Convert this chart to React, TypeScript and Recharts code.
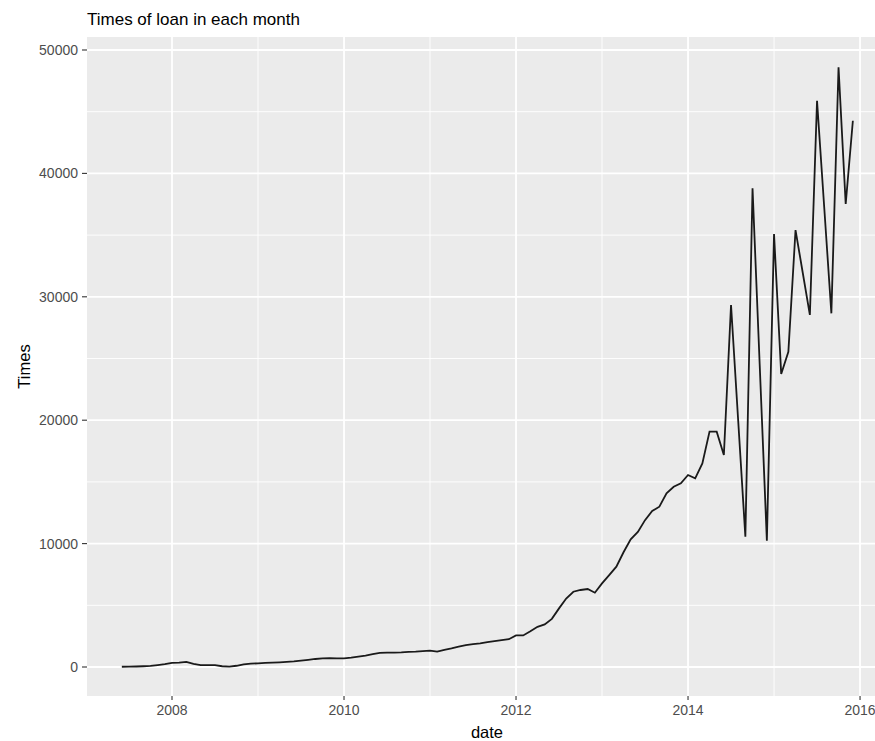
import React from 'react';
import { LineChart, Line, XAxis, YAxis, CartesianGrid } from 'recharts';

const months: string[] = [
  '2007-06','2007-07','2007-08','2007-09','2007-10','2007-11','2007-12',
  '2008-01','2008-02','2008-03','2008-04','2008-05','2008-06','2008-07','2008-08','2008-09','2008-10','2008-11','2008-12',
  '2009-01','2009-02','2009-03','2009-04','2009-05','2009-06','2009-07','2009-08','2009-09','2009-10','2009-11','2009-12',
  '2010-01','2010-02','2010-03','2010-04','2010-05','2010-06','2010-07','2010-08','2010-09','2010-10','2010-11','2010-12',
  '2011-01','2011-02','2011-03','2011-04','2011-05','2011-06','2011-07','2011-08','2011-09','2011-10','2011-11','2011-12',
  '2012-01','2012-02','2012-03','2012-04','2012-05','2012-06','2012-07','2012-08','2012-09','2012-10','2012-11','2012-12',
  '2013-01','2013-02','2013-03','2013-04','2013-05','2013-06','2013-07','2013-08','2013-09','2013-10','2013-11','2013-12',
  '2014-01','2014-02','2014-03','2014-04','2014-05','2014-06','2014-07','2014-08','2014-09','2014-10','2014-11','2014-12',
  '2015-01','2015-02','2015-03','2015-04','2015-05','2015-06','2015-07','2015-08','2015-09','2015-10','2015-11','2015-12',
];

const times: number[] = [
  20, 30, 40, 60, 90, 160, 230,
  330, 350, 420, 250, 160, 160, 150, 60, 30, 100, 220, 270,
  300, 330, 350, 380, 420, 460, 520, 580, 650, 700, 710, 700,
  705, 760, 840, 930, 1040, 1140, 1170, 1170, 1180, 1230, 1250, 1290,
  1330, 1240, 1390, 1500, 1650, 1780, 1860, 1920, 2020, 2100, 2180, 2250,
  2560, 2560, 2900, 3260, 3450, 3900, 4750, 5550, 6100, 6240, 6320, 6020,
  6780, 7450, 8130, 9300, 10350, 10950, 11900, 12640, 12990, 14080, 14610, 14890,
  15560, 15290, 16500, 19070, 19070, 17180, 29340, 19950, 10560, 38790, 24500, 10240,
  35090, 23750, 25550, 35410, 31970, 28530, 45890, 37280, 28660, 48600, 37520, 44270,
];

const xTicks: number[] = [2008, 2010, 2012, 2014, 2016];
const xMinor: number[] = [2009, 2011, 2013, 2015];
const yTicks: number[] = [0, 10000, 20000, 30000, 40000, 50000];
const yMinor: number[] = [5000, 15000, 25000, 35000, 45000];

const data = months.map((m, i) => {
  const [y, mo] = m.split('-').map(Number);
  return { t: y + (mo - 1) / 12, times: times[i] };
});

const FONT = '"Liberation Sans", Arial, sans-serif';

export default function App() {
  return (
    <div style={{ position: 'absolute', left: 0, top: 0, width: 875, height: 741, fontFamily: FONT }}>
      <div
        style={{
          position: 'absolute',
          left: 87,
          top: 10,
          fontSize: 17,
          lineHeight: '20px',
          color: '#000',
          whiteSpace: 'nowrap',
          fontFamily: FONT,
        }}
      >
        Times of loan in each month
      </div>
      <LineChart
        width={875}
        height={741}
        data={data}
        margin={{ top: 37, right: 0, bottom: 0, left: 0 }}
        style={{ fontFamily: FONT }}
      >
        <CartesianGrid
          fill="#EBEBEB"
          fillOpacity={1}
          stroke="#FFFFFF"
          strokeWidth={0.9}
          horizontalValues={yMinor}
          verticalValues={xMinor}
        />
        <CartesianGrid
          stroke="#FFFFFF"
          strokeWidth={1.8}
          horizontalValues={yTicks}
          verticalValues={xTicks}
        />
        <XAxis
          dataKey="t"
          type="number"
          domain={[2007.0116, 2016.174]}
          allowDataOverflow
          ticks={xTicks}
          tickFormatter={(v: number) => String(Math.round(v))}
          height={45}
          axisLine={false}
          tickSize={4}
          tickMargin={5}
          tickLine={{ stroke: '#333333', strokeWidth: 1.1 }}
          tick={{ fill: '#4D4D4D', fontSize: 14, fontFamily: FONT }}
          label={{
            content: (props: any) => {
              const vb = props.viewBox || {};
              return (
                <text
                  x={vb.x + vb.width / 2 + 6}
                  y={vb.y + vb.height - 3}
                  textAnchor="middle"
                  fontSize={16.5}
                  fill="#000"
                  fontFamily={FONT}
                >
                  date
                </text>
              );
            },
          }}
        />
        <YAxis
          type="number"
          domain={[-2350, 51053]}
          allowDataOverflow
          ticks={yTicks}
          width={87}
          axisLine={false}
          tickSize={5}
          tickMargin={4}
          tickLine={{ stroke: '#333333', strokeWidth: 1.1 }}
          tick={{ fill: '#4D4D4D', fontSize: 14, fontFamily: FONT }}
          label={{
            content: (props: any) => {
              const vb = props.viewBox || {};
              const cx = vb.x + 30;
              const cy = vb.y + vb.height / 2;
              return (
                <text
                  x={cx}
                  y={cy}
                  transform={`rotate(-90, ${cx}, ${cy})`}
                  textAnchor="middle"
                  fontSize={16.5}
                  fill="#000"
                  fontFamily={FONT}
                >
                  Times
                </text>
              );
            },
          }}
        />
        <Line
          type="linear"
          dataKey="times"
          stroke="#1A1A1A"
          strokeWidth={1.8}
          dot={false}
          activeDot={false}
          isAnimationActive={false}
        />
      </LineChart>
    </div>
  );
}
